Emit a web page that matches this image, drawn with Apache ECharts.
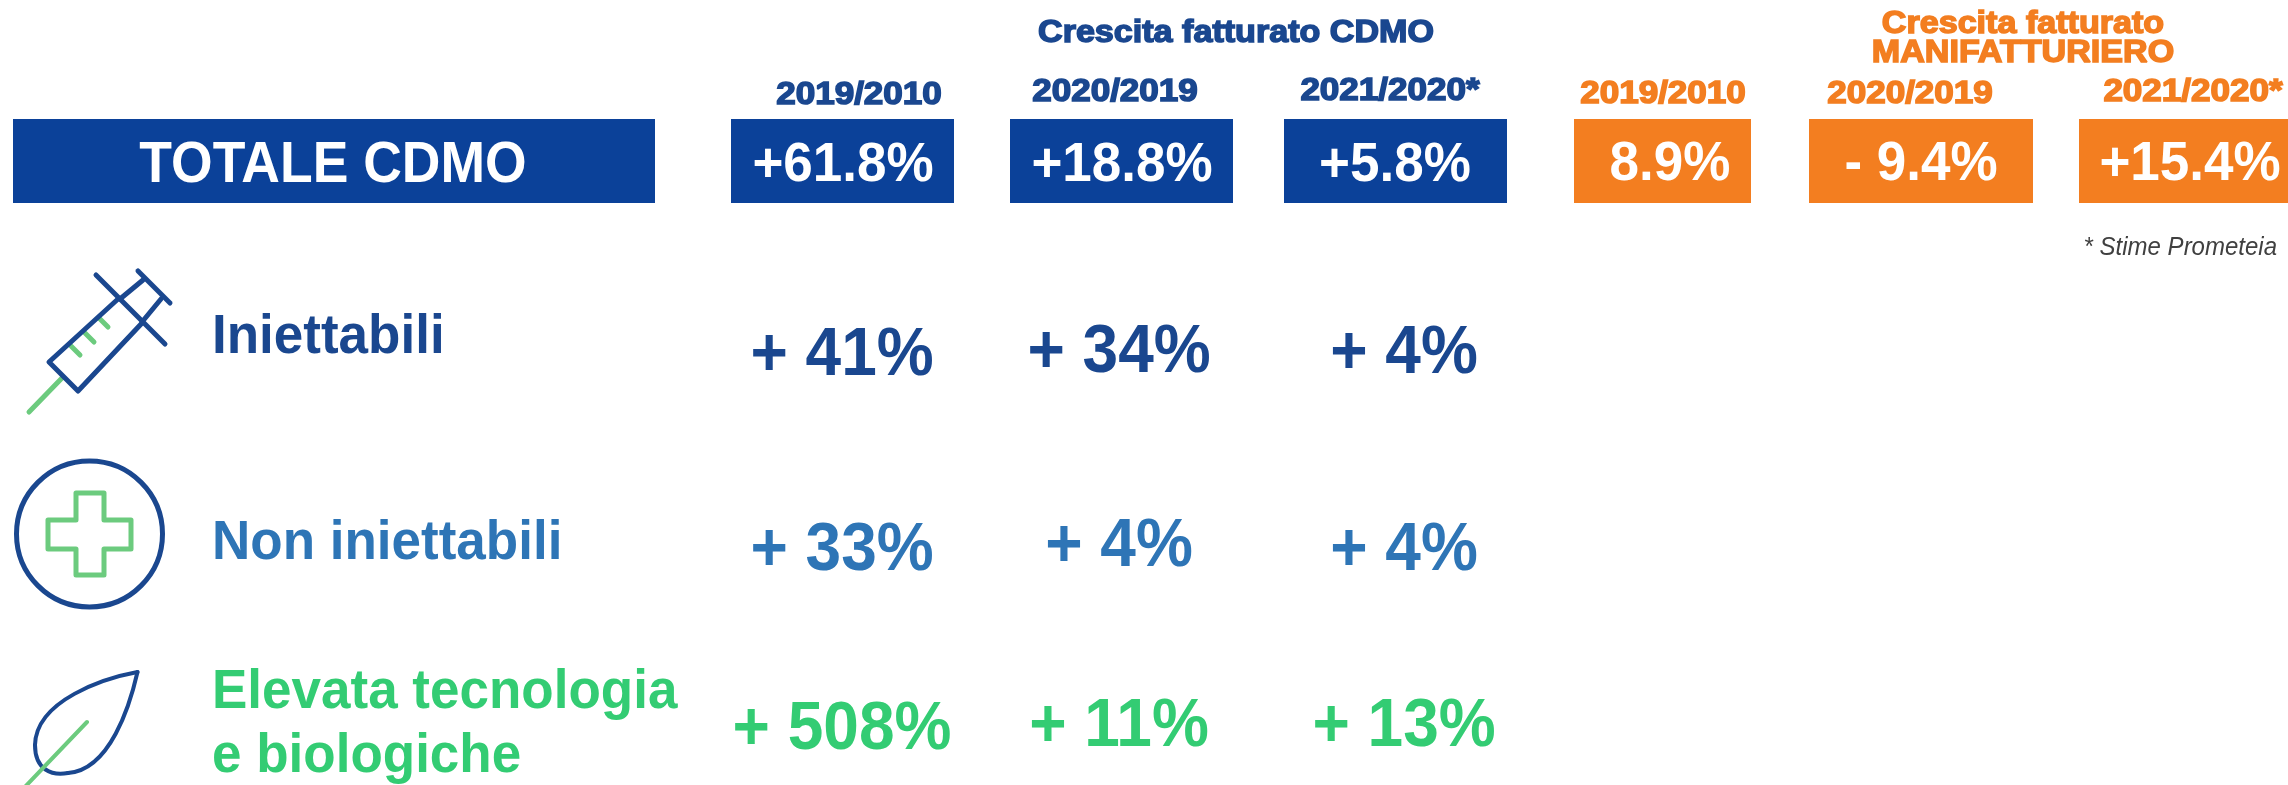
<!DOCTYPE html>
<html>
<head>
<meta charset="utf-8">
<style>
    html, body { margin: 0; padding: 0; background: #fff; }
    #main { width: 2288px; height: 785px; }
</style>
<script src="https://cdn.jsdelivr.net/npm/echarts@6/dist/echarts.min.js"></script>
</head>
<body>
<div id="main"></div>
<script>
// dati
const periodi = ['2019/2010', '2020/2019', '2021/2020*'];
const totaleCdmo = ['+61.8%', '+18.8%', '+5.8%'];
const totaleManifatturiero = ['8.9%', '- 9.4%', '+15.4%'];
const iniettabili = ['+ 41%', '+ 34%', '+ 4%'];
const nonIniettabili = ['+ 33%', '+ 4%', '+ 4%'];
const elevataTecnologia = ['+ 508%', '+ 11%', '+ 13%'];
const titoloCdmo = 'Crescita fatturato CDMO';
const titoloManifatturiero = ['Crescita fatturato', 'MANIFATTURIERO'];
const etichettaTotale = 'TOTALE CDMO';
const etichetteRighe = ['Iniettabili', 'Non iniettabili', 'Elevata tecnologia', 'e biologiche'];
const nota = '* Stime Prometeia';

// posizioni delle colonne e delle righe (assi in pixel)
const boxBlu = [[731, 119, 954, 203], [1010, 119, 1233, 203], [1284, 119, 1507, 203]];
const boxArancio = [[1574, 119, 1751, 203], [1809, 119, 2033, 203], [2079, 119, 2290, 203]];
const boxTotale = [13, 119, 655, 203];
const xValoriBlu = [843, 1122, 1395];
const xValoriArancio = [1670, 1921, 2190];
const xPeriodiBlu = [859, 1115, 1390];
const yPeriodiBlu = [95, 92, 91];
const xPeriodiArancio = [1663, 1910, 2193];
const yPeriodiArancio = [94, 94, 92];
const xRighe = [842, 1119, 1404];
const yRiga1 = [356, 353, 354];
const yRiga2 = [551, 547, 551];
const yRiga3 = [730, 727, 727];
const yEtichette = [338, 544, 693, 757];

const BLU = '#0b4199';
const NAVY = '#1a478f';
const AZZURRO = '#2e75b6';
const VERDE = '#33cc73';
const ARANCIO = '#f37e20';
const VERDE_ICONA = '#6ccb7e';
const FONT = '"Liberation Sans", Arial, sans-serif';

// lista dei testi da disegnare
let testi = [];
function addTesto(x, y, text, color, size, extra) {
    testi.push(Object.assign({ x, y, text, color, size, align: 'center', scaleX: 1, scaleY: 1.06, stroke: 0, weight: 'bold', style: 'normal' }, extra));
}
totaleCdmo.forEach((t, i) => addTesto(xValoriBlu[i], 166, t, '#fff', 53));
totaleManifatturiero.forEach((t, i) => addTesto(xValoriArancio[i], 165, t, '#fff', 53));
addTesto(333, 166, etichettaTotale, '#fff', 53.5);
let titoli = { scaleX: 1.1, scaleY: 1, stroke: 1.5 };
let anni = { scaleX: 1.13, scaleY: 1, stroke: 1.5 };
periodi.forEach((t, i) => addTesto(xPeriodiBlu[i], yPeriodiBlu[i], t, NAVY, 31, anni));
periodi.forEach((t, i) => addTesto(xPeriodiArancio[i], yPeriodiArancio[i], t, ARANCIO, 31, anni));
addTesto(1236, 33, titoloCdmo, NAVY, 31, titoli);
addTesto(2023, 24, titoloManifatturiero[0], ARANCIO, 31, titoli);
addTesto(2023, 53, titoloManifatturiero[1], ARANCIO, 31, titoli);
addTesto(2277, 248, nota, '#404040', 24, { align: 'right', weight: 'normal', style: 'italic' });
iniettabili.forEach((t, i) => addTesto(xRighe[i], yRiga1[i], t, NAVY, 64));
nonIniettabili.forEach((t, i) => addTesto(xRighe[i], yRiga2[i], t, AZZURRO, 64));
elevataTecnologia.forEach((t, i) => addTesto(xRighe[i], yRiga3[i], t, VERDE, 64));
let coloriEtichette = [NAVY, AZZURRO, VERDE, VERDE];
etichetteRighe.forEach((t, i) => addTesto(212, yEtichette[i], t, coloriEtichette[i], 53, { align: 'left' }));

// rettangoli
let box = [boxTotale].concat(boxBlu).map(b => ({ value: b, color: BLU }))
    .concat(boxArancio.map(b => ({ value: b, color: ARANCIO })));

// icone
function linea(x1, y1, x2, y2, color, width) {
    return {
        type: 'line',
        shape: { x1, y1, x2, y2 },
        style: { stroke: color, lineWidth: width, lineCap: 'round' }
    };
}
function curva(x1, y1, cpx1, cpy1, cpx2, cpy2, x2, y2) {
    return {
        type: 'bezierCurve',
        shape: { x1, y1, cpx1, cpy1, cpx2, cpy2, x2, y2 },
        style: { stroke: NAVY, lineWidth: 4, fill: 'none', lineCap: 'round' }
    };
}
let icone = [
    // siringa
    linea(62, 378, 29, 412, VERDE_ICONA, 5),
    linea(71, 346, 80, 355, VERDE_ICONA, 5),
    linea(85, 333, 94, 342, VERDE_ICONA, 5),
    linea(99, 318, 108, 327, VERDE_ICONA, 5),
    {
        type: 'polyline',
        shape: { points: [[118, 299], [49, 362], [78, 391], [143, 322]] },
        style: { stroke: NAVY, lineWidth: 5, fill: 'none', lineJoin: 'round' }
    },
    linea(96, 275, 165, 344, NAVY, 5),
    linea(120, 299, 143, 280, NAVY, 5),
    linea(142, 322, 161, 299, NAVY, 5),
    linea(138, 271, 170, 303, NAVY, 5),
    // croce
    {
        type: 'circle',
        shape: { cx: 89.5, cy: 534, r: 73 },
        style: { stroke: NAVY, lineWidth: 5, fill: 'none' }
    },
    {
        type: 'polygon',
        shape: {
            points: [[76, 493], [104, 493], [104, 520], [131, 520], [131, 549], [104, 549],
                [104, 575], [76, 575], [76, 549], [48, 549], [48, 520], [76, 520]]
        },
        style: { stroke: VERDE_ICONA, lineWidth: 5, fill: 'none', lineJoin: 'round' }
    },
    // foglia
    curva(137.5, 672, 105, 678, 36, 700, 35, 745),
    curva(35, 745, 35, 770, 52, 776, 68, 773),
    curva(68, 773, 110, 770, 130, 705, 137.5, 672),
    linea(87, 722, 22, 790, VERDE_ICONA, 4)
];

let myChart = echarts.init(document.getElementById('main'));
let option = {
    animation: false,
    grid: { left: 0, right: 0, top: 0, bottom: 0 },
    xAxis: { type: 'value', min: 0, max: 2288, show: false },
    yAxis: { type: 'value', min: 0, max: 785, inverse: true, show: false },
    graphic: icone,
    series: [{
        type: 'custom',
        coordinateSystem: 'cartesian2d',
        clip: false,
        data: box,
        renderItem: (params, api) => {
            let a = api.coord([api.value(0), api.value(1)]);
            let b = api.coord([api.value(2), api.value(3)]);
            return {
                type: 'rect',
                shape: { x: a[0], y: a[1], width: b[0] - a[0], height: b[1] - a[1] },
                style: { fill: box[params.dataIndex].color }
            };
        }
    }, {
        type: 'custom',
        coordinateSystem: 'cartesian2d',
        clip: false,
        z: 5,
        data: testi.map(t => [t.x, t.y]),
        renderItem: (params, api) => {
            let t = testi[params.dataIndex];
            let p = api.coord([api.value(0), api.value(1)]);
            return {
                type: 'text',
                x: p[0],
                y: p[1],
                scaleX: t.scaleX,
                scaleY: t.scaleY,
                style: {
                    text: t.text,
                    fill: t.color,
                    stroke: t.stroke ? t.color : null,
                    lineWidth: t.stroke,
                    font: `${t.style} ${t.weight} ${t.size}px ${FONT}`,
                    align: t.align,
                    verticalAlign: 'middle'
                }
            };
        }
    }]
};
myChart.setOption(option);
</script>
</body>
</html>
